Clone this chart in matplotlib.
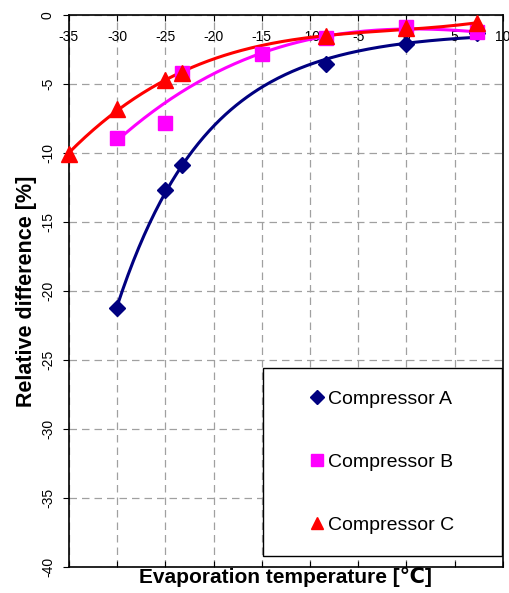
import numpy as np
import matplotlib.pyplot as plt
from matplotlib.patches import Rectangle

plt.rcParams['font.family'] = ['Liberation Sans', 'DejaVu Sans']
plt.rcParams['axes.unicode_minus'] = False

# evaporation temperature [C] and relative difference [%]
x_a = [-30, -25, -23.3, -8.3, 0, 7.3]
y_a = [-21.2, -12.7, -10.9, -3.55, -2.1, -1.33]

x_b = [-30, -25, -23.3, -15, -8.3, 0, 7.3]
y_b = [-8.9, -7.8, -4.2, -2.8, -1.7, -0.9, -1.25]

x_c = [-35, -30, -25, -23.3, -8.3, 0, 7.3]
y_c = [-10.05, -6.8, -4.7, -4.2, -1.55, -0.95, -0.6]

labels = ['Compressor A', 'Compressor B', 'Compressor C']
colors = ['#000080', '#FF00FF', '#FF0000']
markers = ['D', 's', '^']
msizes = [8, 10, 11]


def exp_fit(xs, ys, xx):
    # y = a + b*exp(c*x), grid search on c, least squares for a, b
    xs, ys = np.asarray(xs), np.asarray(ys)
    best = None
    for c in np.linspace(-0.3, -0.01, 300):
        A = np.column_stack([np.ones_like(xs), np.exp(c * xs)])
        coef, *_ = np.linalg.lstsq(A, ys, rcond=None)
        err = np.sum((A @ coef - ys) ** 2)
        if best is None or err < best[0]:
            best = (err, c, coef)
    _, c, (a, b) = best
    return a + b * np.exp(c * xx)


def poly_fit(xs, ys, xx):
    return np.polyval(np.polyfit(xs, ys, 3), xx)


fig = plt.figure(figsize=(5.1, 5.93), dpi=100)
ax = fig.add_axes([0.135, 0.0438, 0.851, 0.9309])

series = [(x_a, y_a, exp_fit), (x_b, y_b, poly_fit), (x_c, y_c, poly_fit)]
handles = []
for (xs, ys, fit), lab, c, m, ms in zip(series, labels, colors, markers, msizes):
    xx = np.linspace(min(xs), max(xs), 200)
    ax.plot(xx, fit(xs, ys, xx), color=c, lw=2.2, zorder=3)
    h, = ax.plot(xs, ys, ls='none', marker=m, ms=ms, color=c, label=lab, zorder=4,
                 clip_on=False)
    handles.append(h)

ax.set_xlim(-35, 10)
ax.set_ylim(-40, 0)
ax.set_xticks(np.arange(-35, 11, 5))
ax.set_yticks(np.arange(-40, 1, 5))
ax.grid(True, color='#a0a0a0', ls=(0, (6, 4)), lw=0.9)

ax.tick_params(axis='x', top=True, bottom=True, labeltop=True, labelbottom=False,
               direction='in', pad=-21, length=4, labelsize=10)
ax.tick_params(axis='y', direction='out', length=4, pad=6, labelsize=10)
for t in ax.get_yticklabels():
    t.set_rotation(90)
    t.set_va('center')
for s in ax.spines.values():
    s.set_linewidth(1.2)

ax.set_xlabel('Evaporation temperature [℃]', fontsize=15, fontweight='bold', labelpad=0)
ax.set_ylabel('Relative difference [%]', fontsize=15.5, fontweight='bold', labelpad=3)

# legend box in the lower right
box = [0.447, 0.02, 0.55, 0.34]
ax.add_patch(Rectangle((box[0], box[1]), box[2], box[3], transform=ax.transAxes,
                       facecolor='white', edgecolor='black', lw=1.0, zorder=5))
leg = ax.legend(handles=handles, loc='center', bbox_to_anchor=box, frameon=False,
                fontsize=14, labelspacing=2.35, handlelength=0.7, handletextpad=0.2,
                numpoints=1)
leg.set_zorder(6)
for h in leg.legend_handles:
    h.set_markersize(h.get_markersize() * 0.85)

fig.savefig('out.png', dpi=100)
